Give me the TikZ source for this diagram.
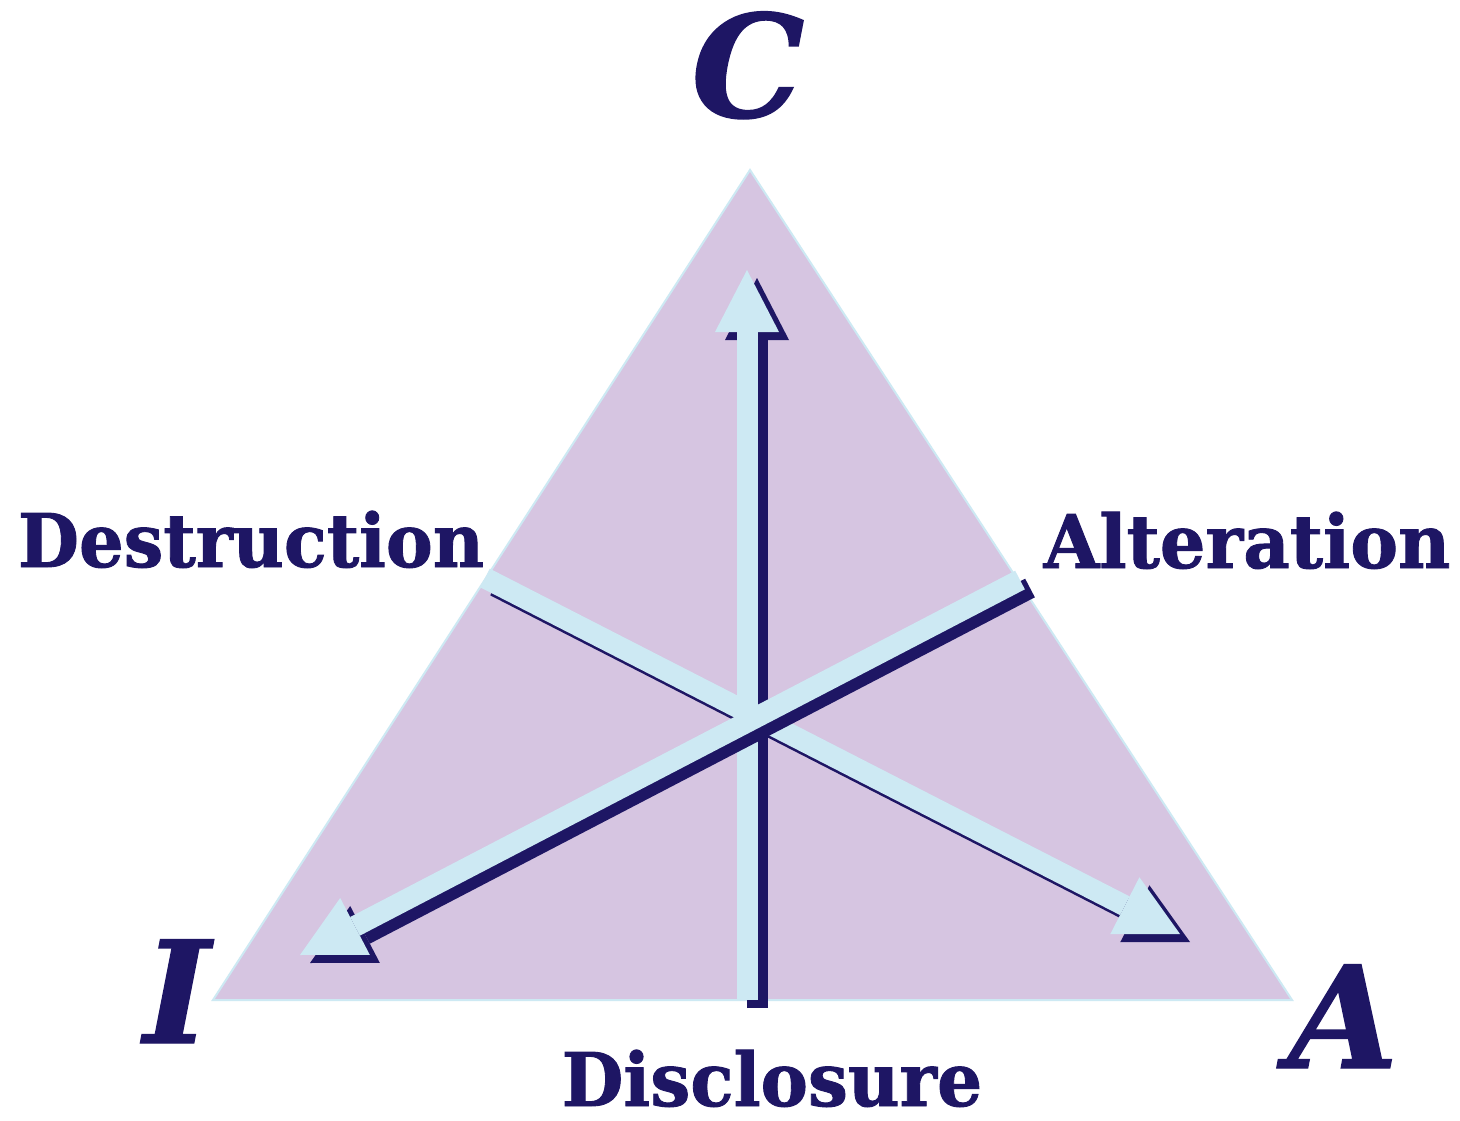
\documentclass[tikz,border=0pt]{standalone}
\usepackage{fontspec}
\setmainfont{DejaVu Serif}
\newfontfamily\heavyserif{DejaVu Serif Bold}[FakeBold=1.2]
\newfontfamily\heavyitalic{DejaVu Serif Bold Italic}[FakeBold=1]
\usetikzlibrary{arrows.meta}
\definecolor{navy}{RGB}{30,22,100}
\definecolor{lilac}{RGB}{214,197,225}
\definecolor{ice}{RGB}{205,233,243}
\tikzset{
  band/.style={line width=21pt, line cap=butt, -{Triangle[width=64pt,length=62pt,line width=0pt]}},
  lightband/.style={band, draw=ice, fill=ice, color=ice},
  shadowband/.style={band, color=navy, transform canvas={shift={(10,8)}}},
  word/.style={anchor=base, text=navy, font=\heavyserif\fontsize{74}{80}\selectfont, inner sep=0pt},
  letter/.style={anchor=base, text=navy, font=\heavyitalic\fontsize{142}{150}\selectfont, inner sep=0pt}
}
\begin{document}
\begin{tikzpicture}[x=1pt,y=-1pt]
\useasboundingbox (0,0) rectangle (1460,1121);
\fill[white] (0,0) rectangle (1460,1121);
% triangle
\coordinate (top) at (750,170);
\coordinate (bl) at (213,1000);
\coordinate (br) at (1292,1000);
\filldraw[fill=lilac, draw=ice, line width=2pt, line join=miter] (top) -- (bl) -- (br) -- cycle;
% arrow end points
\coordinate (vS) at (747,1000);
\coordinate (vE) at (747,270);
\coordinate (dS) at (485,578);
\coordinate (dE) at (1180,934);
\coordinate (aS) at (1020,580);
\coordinate (aE) at (300,955);
% vertical arrow
\draw[shadowband] (vS) -- (vE);
\draw[lightband] (vS) -- (vE);
% destruction -> A
\draw[shadowband] (dS) -- (dE);
\draw[lightband] (dS) -- (dE);
% alteration -> I
\draw[shadowband] (aS) -- (aE);
\draw[lightband] (aS) -- (aE);
% labels
\node[letter] (C) at (748,117) {C};
\node[letter] (I) at (177,1043) {I};
\node[letter] (A) at (1343,1068) {A};
\node[word] (destr) at (251,567) {\scalebox{0.95}[1]{Destruction}};
\node[word] (alter) at (1247,568) {\scalebox{0.97}[1]{Alteration}};
\node[word] (discl) at (772,1106) {\scalebox{0.96}[1]{Disclosure}};
\end{tikzpicture}
\end{document}
